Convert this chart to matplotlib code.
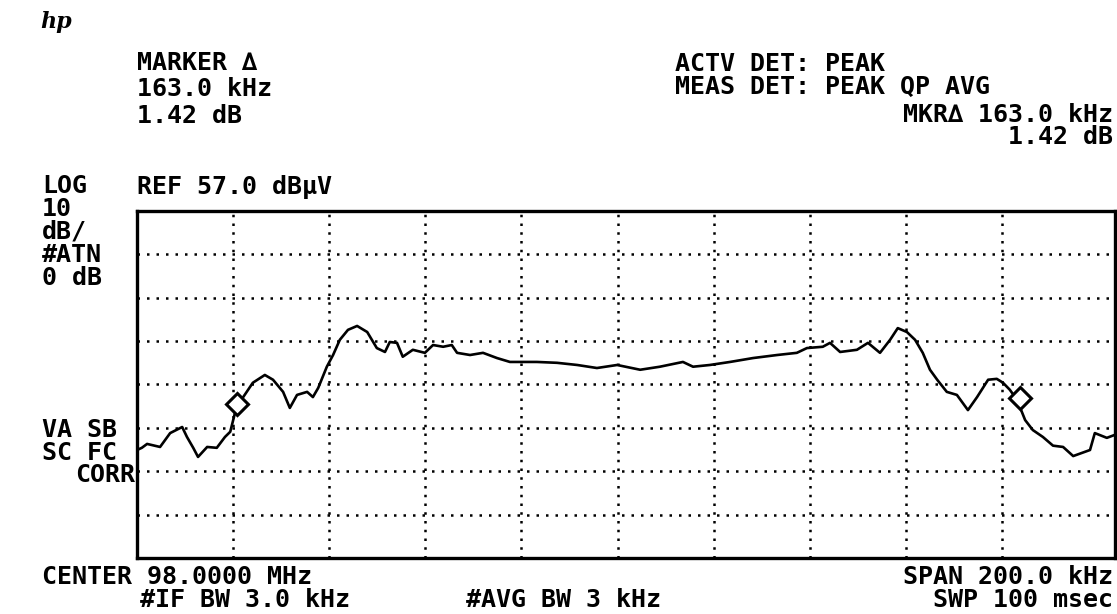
import matplotlib
matplotlib.use("Agg")
import matplotlib.pyplot as plt

# ---------------- data ----------------
center_mhz = 98.0
span_khz = 200.0
ref_level_dbuv = 57.0
db_per_div = 10
n_ydiv = 8
n_xdiv = 10

freq_offset_khz = [
    -100.0, -99.0, -97.9, -95.2, -93.1, -90.6, -89.6, -88.3, -87.3, -85.4,
    -83.4, -81.7, -80.6, -79.6, -79.2, -77.9, -75.9, -73.4, -71.7, -69.6,
    -68.2, -66.7, -64.6, -63.4, -62.3, -60.5, -59.2, -57.8, -56.1, -54.2,
    -52.1, -50.1, -48.4, -47.4, -45.9, -44.7, -42.6, -40.1, -38.4, -36.3,
    -34.5, -33.4, -30.7, -28.0, -25.1, -22.4, -19.7, -16.8, -12.6, -8.4,
    -4.3, -0.1, 4.7, 8.8, 13.6, 15.7, 19.2, 23.4, 28.2, 33.2,
    37.3, 39.4, 42.7, 44.2, 46.3, 49.8, 52.1, 54.6, 56.7, 58.3,
    60.2, 61.9, 63.5, 65.0, 66.5, 68.5, 70.6, 72.9, 74.8, 77.1,
    78.9, 80.2, 81.6, 83.1, 84.8, 86.4, 88.5, 90.6, 92.7, 94.8,
    98.3, 99.3, 101.8, 103.5,
]
level_dbuv = [
    1.9, 2.4, 3.3, 2.6, 5.8, 7.2, 4.9, 2.4, 0.3, 2.6,
    2.4, 4.9, 6.1, 10.5, 12.5, 14.1, 17.4, 19.2, 18.1, 15.3,
    11.6, 14.6, 15.3, 14.1, 16.2, 21.1, 23.8, 27.3, 29.6, 30.5,
    29.1, 25.4, 24.5, 26.8, 26.6, 23.4, 25.0, 24.3, 26.1, 25.7,
    26.1, 24.3, 23.8, 24.3, 23.1, 22.2, 22.2, 22.2, 22.0, 21.5,
    20.8, 21.5, 20.4, 21.1, 22.2, 21.1, 21.5, 22.2, 23.1, 23.8,
    24.3, 25.4, 25.7, 26.6, 24.5, 25.0, 26.6, 24.3, 27.3, 30.0,
    29.1, 27.3, 24.3, 20.4, 18.1, 15.3, 14.6, 11.1, 14.1, 18.1,
    18.3, 17.4, 15.8, 13.5, 8.8, 6.5, 4.9, 2.9, 2.6, 0.5,
    1.9, 5.8, 4.7, 5.4,
]
marker_offset_khz = [-79.2, 83.8]
marker_level_dbuv = [12.5, 13.9]

header_left = ["MARKER \u2206", "163.0 kHz", "1.42 dB"]
header_right = ["ACTV DET: PEAK", "MEAS DET: PEAK QP AVG", "MKR\u2206 163.0 kHz", "1.42 dB"]
side_labels = ["LOG", "10", "dB/", "#ATN", "0 dB"]
ref_label = "REF 57.0 dB\u00b5V"
corr_labels = ["VA SB", "SC FC", "CORR"]
footer = ["CENTER 98.0000 MHz", "#IF BW 3.0 kHz", "#AVG BW 3 kHz", "SPAN 200.0 kHz", "SWP 100 msec"]

# ---------------- figure ----------------
W, H = 1117, 614
fig = plt.figure(figsize=(W / 100, H / 100), dpi=100)
fig.patch.set_facecolor("white")

x0, x1, y0, y1 = 137, 1115, 211, 558
ax = fig.add_axes([x0 / W, 1 - y1 / H, (x1 - x0) / W, (y1 - y0) / H])
half = span_khz / 2
xdiv = span_khz / n_xdiv
ax.set_xlim(-half, half + 3.5)
ax.set_ylim(ref_level_dbuv - n_ydiv * db_per_div, ref_level_dbuv)

for i in range(1, n_xdiv):
    ax.axvline(-half + i * xdiv, color="black", lw=1.8, ls=(0, (1, 2.5)), zorder=1)
for j in range(1, n_ydiv):
    ax.axhline(ref_level_dbuv - j * db_per_div, color="black", lw=1.8,
               ls=(0, (1, 2.8)), zorder=1)

ax.plot(freq_offset_khz, level_dbuv, color="black", lw=1.9, zorder=3)
ax.plot(marker_offset_khz, marker_level_dbuv, ls="none", marker="D", ms=11,
        mfc="white", mec="black", mew=2.2, zorder=4)

ax.set_xticks([])
ax.set_yticks([])
for s in ax.spines.values():
    s.set_linewidth(2.4)
    s.set_color("black")

FONT = dict(family="DejaVu Sans Mono", weight="bold", size=18, color="black")


def put(x, y, s, ha="left", **kw):
    d = dict(FONT)
    d.update(kw)
    return fig.text(x / W, 1 - y / H, s, ha=ha, va="center", **d)


# hp logo
put(40, 22, "hp", family="DejaVu Serif", style="italic", size=16)

# header left
for s, y in zip(header_left, [63, 89, 116]):
    put(137, y, s)
# header right
put(675, 64, header_right[0])
put(675, 87, header_right[1])
put(1113, 115, header_right[2], ha="right")
put(1113, 137, header_right[3], ha="right")

# side label block (one multi-line text)
put(42, 232, "\n".join(side_labels), linespacing=0.94)
put(137, 187, ref_label)

put(42, 430, corr_labels[0])
put(42, 453, corr_labels[1])
put(135, 475, corr_labels[2], ha="right")

# footer
put(42, 577, footer[0])
put(140, 600, footer[1])
put(466, 600, footer[2])
put(1113, 577, footer[3], ha="right")
put(1113, 600, footer[4], ha="right")

fig.savefig("out.png", dpi=100, facecolor="white")
